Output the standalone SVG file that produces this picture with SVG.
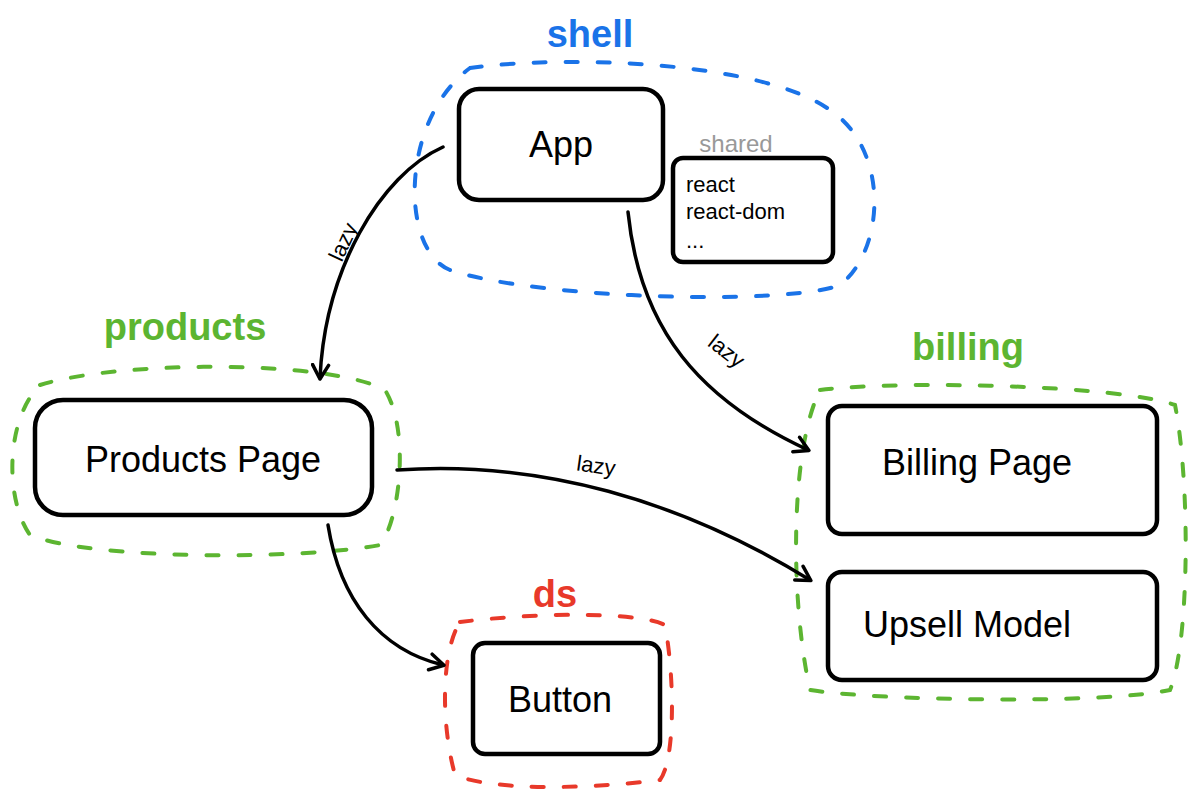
<svg xmlns="http://www.w3.org/2000/svg" width="1200" height="800" viewBox="0 0 1200 800">
<defs>
<marker id="arr" markerWidth="20" markerHeight="20" refX="15" refY="10" orient="auto" markerUnits="userSpaceOnUse" viewBox="0 0 20 20">
<path d="M2,2 L16,10 L2,18" fill="none" stroke="#000" stroke-width="3.5" stroke-linecap="round" stroke-linejoin="round"/>
</marker>
</defs>
<style>
.box{fill:#fff;stroke:#000;stroke-width:4.5}
.grp{fill:none;stroke-width:4;stroke-dasharray:12 20;stroke-linecap:round}
.lbl{font-family:"Liberation Sans",sans-serif;font-size:36px;fill:#000;text-anchor:middle}
.glbl{font-family:"Liberation Sans",sans-serif;font-size:38px;font-weight:bold;text-anchor:middle}
.edge{fill:none;stroke:#000;stroke-width:3.5;stroke-linecap:round}
.elbl{font-family:"Liberation Sans",sans-serif;font-size:22px;fill:#000;text-anchor:middle}
.small{font-family:"Liberation Sans",sans-serif;font-size:22px;fill:#000}
</style>
<rect width="1200" height="800" fill="#fff"/>
<g id="shell">
<path class="grp" stroke="#1a73e8" d="M470,68 C560,55 760,60 830,110 C890,150 885,250 840,285 C790,305 540,300 450,270 C400,250 400,120 470,68 Z"/>
<text class="glbl" x="590" y="47" fill="#1a73e8">shell</text>
</g>
<g id="products">
<path class="grp" stroke="#5cb531" d="M40,385 C120,360 330,360 385,390 C410,430 400,520 380,545 C300,560 90,560 30,535 C5,500 5,420 40,385 Z"/>
<text class="glbl" x="185" y="340" fill="#5cb531">products</text>
</g>
<g id="billing">
<path class="grp" stroke="#5cb531" d="M820,390 C900,380 1120,385 1175,405 C1190,480 1190,640 1170,690 C1100,705 870,700 810,690 C790,600 790,450 820,390 Z"/>
<text class="glbl" x="968" y="360" fill="#5cb531">billing</text>
</g>
<g id="ds">
<path class="grp" stroke="#e8392a" d="M460,622 C540,612 640,612 665,625 C675,680 675,760 660,780 C580,790 490,790 455,775 C440,720 442,650 460,622 Z"/>
<text class="glbl" x="555" y="607" fill="#e8392a">ds</text>
</g>
<g id="app">
<rect class="box" x="459" y="89" width="204" height="111" rx="20"/>
<text class="lbl" x="561" y="157">App</text>
</g>
<g id="shared">
<text x="736" y="152" font-family="Liberation Sans,sans-serif" font-size="24" fill="#999" text-anchor="middle">shared</text>
<rect class="box" x="673" y="158" width="160" height="104" rx="10" stroke-width="3"/>
<text class="small" x="686" y="192">react</text>
<text class="small" x="686" y="219">react-dom</text>
<text class="small" x="686" y="248">...</text>
</g>
<g id="products-page">
<rect class="box" x="35" y="400" width="337" height="115" rx="28"/>
<text class="lbl" x="203" y="472">Products Page</text>
</g>
<g id="billing-page">
<rect class="box" x="828" y="406" width="329" height="128" rx="14"/>
<text class="lbl" x="977" y="475">Billing Page</text>
</g>
<g id="upsell-model">
<rect class="box" x="828" y="572" width="329" height="108" rx="14"/>
<text class="lbl" x="967" y="637">Upsell Model</text>
</g>
<g id="button">
<rect class="box" x="473" y="643" width="187" height="111" rx="12"/>
<text class="lbl" x="560" y="712">Button</text>
</g>
<g id="connectors">
<path class="edge" marker-end="url(#arr)" d="M443,147 C380,175 325,270 320,378"/>
<text class="elbl" transform="translate(350,245) rotate(-65)">lazy</text>
<path class="edge" marker-end="url(#arr)" d="M628,212 C640,330 700,400 808,450"/>
<text class="elbl" transform="translate(722,357) rotate(38)">lazy</text>
<path class="edge" marker-end="url(#arr)" d="M397,470 C540,460 680,500 810,580"/>
<text class="elbl" transform="translate(595,473) rotate(8)">lazy</text>
<path class="edge" marker-end="url(#arr)" d="M328,525 C340,600 380,650 443,665"/>
</g>
</svg>
